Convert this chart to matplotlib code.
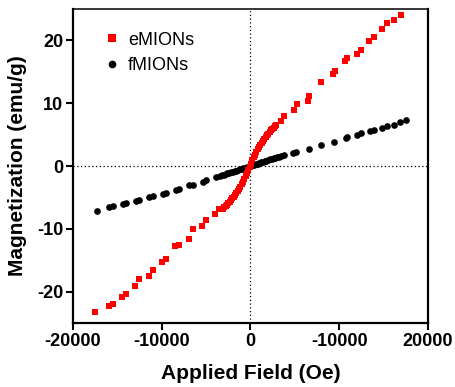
import matplotlib
matplotlib.use("Agg")
import matplotlib.pyplot as plt

plt.rcParams['font.family'] = ['Liberation Sans', 'DejaVu Sans']

# eMIONs (red squares): sparse high-field points + dense low-field part
e_field = [-17480, -15980, -15530, -14470, -14020, -12970, -12520, -11470, -11020,
           -9960, -9510, -8460, -8010, -6960, -6510, -5450, -5000, -3950, -3500,
           -3100, -2950, -2800, -2650, -2500, -2350, -2200, -2050, -1900, -1750,
           -1600, -1450, -1300, -1150, -1000, -850, -700, -550, -400, -250, -100,
           50, 200, 350, 500, 650, 800, 950, 1100, 1250, 1400, 1550, 1700, 1850,
           2000, 2150, 2300, 2450, 2600, 2750, 2900,
           3460, 3800, 4880, 5190, 6430, 6540, 7900, 9280, 9480, 10680, 10910,
           11990, 12440, 13390, 13950, 14780, 15420, 16160, 16920]
e_mag = [-23.3, -22.3, -21.9, -20.8, -20.4, -19.1, -18.0, -17.5, -16.6,
         -15.3, -14.8, -12.8, -12.6, -11.7, -10.1, -9.5, -8.6, -7.6, -6.8,
         -6.81, -6.59, -6.37, -6.14, -5.90, -5.66, -5.41, -5.15, -4.88, -4.60,
         -4.30, -3.98, -3.64, -3.28, -2.90, -2.49, -2.05, -1.60, -1.12, -0.62, -0.12,
         0.38, 0.88, 1.36, 1.82, 2.25, 2.66, 3.05, 3.40, 3.74, 4.06, 4.36, 4.64, 4.91,
         5.17, 5.42, 5.67, 5.90, 6.13, 6.35, 6.57,
         7.1, 8.0, 8.9, 9.8, 10.4, 11.1, 13.3, 14.7, 15.1, 16.7, 17.2,
         17.9, 18.5, 19.9, 20.5, 21.8, 22.7, 23.2, 24.1]

# fMIONs (black circles)
f_field = [-17300, -15900, -15530, -14400, -14020, -12890, -12520, -11390, -11020,
           -9890, -9510, -8380, -8010, -6880, -6510, -5380, -5000, -3870,
           -3400, -3200, -3000, -2800, -2600, -2400, -2200, -2000, -1800, -1600,
           -1400, -1200, -1000, -800, -600, -400, -200, 0, 200, 400, 600, 800,
           1000, 1200, 1400, 1600, 1800, 2000, 2200, 2400, 2600, 2800, 3000, 3200, 3400,
           3830, 4770, 5150, 6540, 7900, 9400, 10720, 10910, 12030, 12410, 13420,
           13910, 14780, 15420, 16160, 16810, 17480]
f_mag = [-7.2, -6.6, -6.4, -6.0, -5.9, -5.5, -5.35, -5.0, -4.8,
         -4.45, -4.3, -3.8, -3.65, -3.1, -2.95, -2.5, -2.3, -1.8,
         -1.54, -1.45, -1.36, -1.27, -1.17, -1.08, -0.99, -0.90, -0.81, -0.72,
         -0.62, -0.53, -0.44, -0.35, -0.25, -0.16, -0.07, 0.02, 0.12, 0.21, 0.30, 0.39,
         0.48, 0.58, 0.67, 0.76, 0.85, 0.94, 1.04, 1.13, 1.22, 1.31, 1.40, 1.50, 1.59,
         1.8, 2.1, 2.3, 2.75, 3.4, 3.9, 4.45, 4.6, 5.0, 5.2, 5.6,
         5.8, 6.1, 6.3, 6.6, 6.95, 7.27]

x_ticks = [-20000, -10000, 0, 10000, 20000]
x_tick_labels = ['-20000', '-10000', '0', '-10000', '20000']
y_ticks = [-20, -10, 0, 10, 20]
y_tick_labels = ['-20', '-10', '0', '10', '20']

fig = plt.figure(figsize=(4.56, 3.87), dpi=100)
ax = fig.add_axes([0.160, 0.1654, 0.7786, 0.8113])

ax.axhline(0, color='black', linestyle=(0, (1, 2)), linewidth=0.9, zorder=1)
ax.axvline(0, color='black', linestyle=(0, (1, 2)), linewidth=0.9, zorder=1)

ax.plot(f_field, f_mag, 'o', color='black', markersize=4.8, markeredgewidth=0,
        label='fMIONs', zorder=2)
ax.plot(e_field, e_mag, 's', color='#ff0000', markersize=5.0, markeredgewidth=0,
        label='eMIONs', zorder=3)

ax.set_xlim(-20000, 20000)
ax.set_ylim(-25, 25)
ax.set_xticks(x_ticks)
ax.set_xticklabels(x_tick_labels)
ax.set_yticks(y_ticks)
ax.set_yticklabels(y_tick_labels)

for lbl in ax.get_xticklabels() + ax.get_yticklabels():
    lbl.set_fontweight('bold')
    lbl.set_fontsize(13)

ax.tick_params(direction='out', length=5, width=1.5, pad=2)
for side in ['left', 'bottom', 'right']:
    ax.spines[side].set_linewidth(1.6)
ax.spines['top'].set_linewidth(1.1)

ax.set_xlabel('Applied Field (Oe)', fontsize=15, fontweight='bold')
ax.set_ylabel('Magnetization (emu/g)', fontsize=15, fontweight='bold')
ax.xaxis.set_label_coords(0.5, -0.13)
ax.yaxis.set_label_coords(-0.13, 0.5)

handles, labels = ax.get_legend_handles_labels()
ax.legend(handles[::-1], labels[::-1], loc='upper left', frameon=False, fontsize=13,
          handletextpad=0.1, borderaxespad=0.6, labelspacing=0.45,
          handlelength=1.6, markerscale=1.15, bbox_to_anchor=(0.018, 0.985))

fig.savefig('out.png', dpi=100)
